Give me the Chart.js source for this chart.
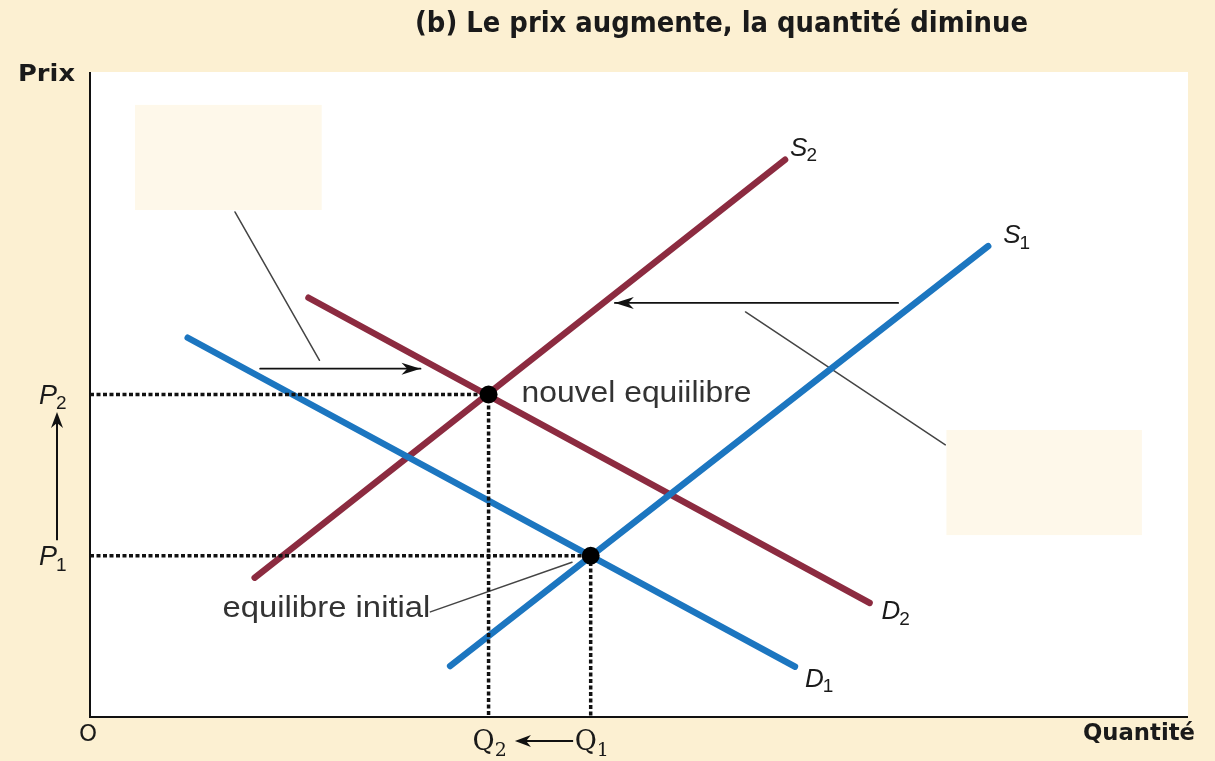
<!DOCTYPE html>
<html>
<head>
<meta charset="utf-8">
<script src="https://cdn.jsdelivr.net/npm/chart.js@4.4.1/dist/chart.umd.min.js"></script>
<style>
  html, body { margin:0; padding:0; background:#fcf0d2; }
  #wrap { width:1215px; height:761px; position:relative; }
</style>
</head>
<body>
<div id="wrap"><canvas id="c"></canvas></div>
<script>
// ---- data (abstract units: quantity 0..100, price 0..100) ----
const supply1 = [{x:32.8, y:7.9}, {x:81.8, y:73.0}];
const demand1 = [{x:8.9, y:58.8}, {x:64.2, y:7.8}];
const supply2 = [{x:15.0, y:21.6}, {x:63.3, y:86.4}];
const demand2 = [{x:19.9, y:65.0}, {x:71.0, y:17.7}];
const initialEq = {x:45.6, y:25.0};
const newEq = {x:36.3, y:50.0};
const demandShift = [{x:15.5, y:54.0}, {x:30.1, y:54.0}];
const supplyShift = [{x:73.6, y:64.2}, {x:47.8, y:64.2}];
const pointerA = [{x:13.2, y:78.3}, {x:20.9, y:55.3}];
const pointerB = [{x:59.7, y:62.8}, {x:77.9, y:42.2}];
const pointerInit = [{x:31.0, y:16.3}, {x:43.9, y:24.0}];
const noteBoxes = [{x0:4.1, x1:21.1, y0:78.6, y1:94.9}, {x0:78.0, x1:95.8, y0:28.2, y1:44.5}];
const priceTicks = [{value:25.0, base:'P', sub:'1'}, {value:50.0, base:'P', sub:'2'}];
const qtyTicks = [{value:45.6, base:'Q', sub:'1'}, {value:36.3, base:'Q', sub:'2'}];
const priceArrow = [27.4, 47.3];
const qtyArrow = [44.0, 38.7];
const curveLabels = [
  {base:'S', sub:'2'}, {base:'S', sub:'1'}, {base:'D', sub:'2'}, {base:'D', sub:'1'}
];
const titleText = '(b) Le prix augmente, la quantité diminue';
const yAxisTitle = 'Prix';
const xAxisTitle = 'Quantité';
const originLabel = 'O';
const newEqText = 'nouvel equiilibre';
const initEqText = 'equilibre initial';

const BLUE = '#1c76c0';
const MAROON = '#8c2b40';

function guide(eq) { return [{x:0, y:eq.y}, {x:eq.x, y:eq.y}, {x:eq.x, y:0}]; }

function txt(ctx, s, x, y, font, color, align, sx) {
  ctx.save();
  ctx.font = font; ctx.fillStyle = color; ctx.textAlign = align || 'left'; ctx.textBaseline = 'middle';
  ctx.translate(x, y); ctx.scale(sx || 1, 1); ctx.fillText(s, 0, 0);
  ctx.restore();
}
function fitText(ctx, s, x0, x1, y, font, color) {
  ctx.save(); ctx.font = font; const w = ctx.measureText(s).width; ctx.restore();
  txt(ctx, s, x0, y, font, color, 'left', (x1 - x0) / w);
}
function subLabel(ctx, base, sub, x, y, size, serif) {
  ctx.save();
  const fam = serif ? "'DejaVu Serif', serif" : "'Liberation Sans', Arial, sans-serif";
  ctx.font = (serif ? '' : 'italic ') + size + 'px ' + fam;
  ctx.fillStyle = '#1a1a1a'; ctx.textBaseline = 'alphabetic'; ctx.textAlign = 'left';
  ctx.fillText(base, x, y);
  const w = ctx.measureText(base).width;
  ctx.font = Math.round(size * 0.72) + 'px ' + fam;
  ctx.fillText(sub, x + w + (serif ? 0 : -1), y + size * 0.22);
  ctx.restore();
}
function arrowHead(ctx, x1, y1, x2, y2, len, half) {
  const a = Math.atan2(y2 - y1, x2 - x1);
  ctx.save();
  ctx.translate(x2, y2); ctx.rotate(a);
  ctx.beginPath();
  ctx.moveTo(0, 0); ctx.lineTo(-len, -half); ctx.lineTo(-len * 0.7, 0); ctx.lineTo(-len, half);
  ctx.closePath(); ctx.fillStyle = '#111'; ctx.fill();
  ctx.restore();
}

const decor = {
  id: 'decor',
  beforeDraw(chart) {
    const {ctx, chartArea: a, scales: {x, y}} = chart;
    ctx.save();
    ctx.fillStyle = '#fcf0d2'; ctx.fillRect(0, 0, chart.width, chart.height);
    ctx.fillStyle = '#ffffff'; ctx.fillRect(a.left, a.top, a.right - a.left, a.bottom - a.top);
    ctx.fillStyle = '#fef8ea';
    noteBoxes.forEach(b => {
      const l = x.getPixelForValue(b.x0), r = x.getPixelForValue(b.x1);
      const t = y.getPixelForValue(b.y1), bt = y.getPixelForValue(b.y0);
      ctx.fillRect(l, t, r - l, bt - t);
    });
    ctx.restore();
  },
  afterDatasetsDraw(chart) {
    const {ctx, chartArea: a, scales: {x, y}} = chart;
    ctx.save();
    // axes
    ctx.strokeStyle = '#111'; ctx.lineWidth = 2;
    ctx.beginPath(); ctx.moveTo(a.left, a.top); ctx.lineTo(a.left, a.bottom); ctx.lineTo(a.right, a.bottom); ctx.stroke();
    // shift arrowheads
    [demandShift, supplyShift].forEach(s => {
      arrowHead(ctx, x.getPixelForValue(s[0].x), y.getPixelForValue(s[0].y),
                x.getPixelForValue(s[1].x), y.getPixelForValue(s[1].y), 19, 6);
    });
    // price arrow
    const px = a.left - 33;
    const py0 = y.getPixelForValue(priceArrow[0]), py1 = y.getPixelForValue(priceArrow[1]);
    ctx.strokeStyle = '#111'; ctx.lineWidth = 2;
    ctx.beginPath(); ctx.moveTo(px, py0); ctx.lineTo(px, py1 + 8); ctx.stroke();
    arrowHead(ctx, px, py0, px, py1, 16, 6);
    // quantity arrow
    const qy = a.bottom + 24;
    const qx0 = x.getPixelForValue(qtyArrow[0]), qx1 = x.getPixelForValue(qtyArrow[1]);
    ctx.beginPath(); ctx.moveTo(qx0, qy); ctx.lineTo(qx1 + 8, qy); ctx.stroke();
    arrowHead(ctx, qx0, qy, qx1, qy, 16, 6);
    // tick labels
    priceTicks.forEach(t => subLabel(ctx, t.base, t.sub, a.left - 51, y.getPixelForValue(t.value) + 9, 27, false));
    qtyTicks.forEach(t => subLabel(ctx, t.base, t.sub, x.getPixelForValue(t.value) - 16, a.bottom + 33, 27, true));
    // curve labels
    const ends = [supply2[1], supply1[1], demand2[1], demand1[1]];
    const offs = [[5, -4], [15, -3], [12, 16], [10, 20]];
    curveLabels.forEach((c, i) => {
      subLabel(ctx, c.base, c.sub, x.getPixelForValue(ends[i].x) + offs[i][0], y.getPixelForValue(ends[i].y) + offs[i][1], 26, false);
    });
    // text
    fitText(ctx, titleText, 415, 1028, 25, "bold 28px 'DejaVu Sans', sans-serif", '#1a1a1a');
    fitText(ctx, yAxisTitle, 18, 75, 75, "bold 23px 'DejaVu Sans', sans-serif", '#1a1a1a');
    fitText(ctx, xAxisTitle, 1083, 1195, 734, "bold 23px 'DejaVu Sans', sans-serif", '#1a1a1a');
    txt(ctx, originLabel, a.left - 2, a.bottom + 18, "23px 'DejaVu Sans', sans-serif", '#1a1a1a', 'center');
    const nx = x.getPixelForValue(newEq.x) + 33, ny = y.getPixelForValue(newEq.y) - 1;
    fitText(ctx, newEqText, nx, nx + 230, ny, "29px 'Liberation Sans', Arial, sans-serif", '#333');
    const ix = x.getPixelForValue(pointerInit[0].x), iy = y.getPixelForValue(pointerInit[0].y) - 3;
    fitText(ctx, initEqText, ix - 208, ix, iy, "29px 'Liberation Sans', Arial, sans-serif", '#333');
    ctx.restore();
  }
};

const lineDs = (data, color, width, dash) => ({
  data, showLine: true, borderColor: color, borderWidth: width, borderDash: dash || [],
  pointRadius: 0, borderCapStyle: dash ? 'butt' : 'round', fill: false, tension: 0
});

new Chart(document.getElementById('c'), {
  type: 'scatter',
  data: {
    datasets: [
      { data: [initialEq, newEq], showLine: false, pointRadius: 9, pointBackgroundColor: '#000', pointBorderColor: '#000', pointBorderWidth: 0 },
      lineDs(guide(newEq), '#111', 3.5, [4, 2.5]),
      lineDs(guide(initialEq), '#111', 3.5, [4, 2.5]),
      lineDs(demandShift, '#111', 1.8),
      lineDs(supplyShift, '#111', 1.8),
      lineDs(supply1, BLUE, 6.5),
      lineDs(demand1, BLUE, 6.5),
      lineDs(supply2, MAROON, 6.5),
      lineDs(demand2, MAROON, 6.5),
      lineDs(pointerA, '#444', 1.5),
      lineDs(pointerB, '#444', 1.5),
      lineDs(pointerInit, '#444', 1.5)
    ]
  },
  options: {
    responsive: true, maintainAspectRatio: false, animation: false,
    layout: { padding: { left: 90, top: 72, right: 27, bottom: 44 } },
    plugins: { legend: { display: false }, tooltip: { enabled: false }, title: { display: false } },
    scales: {
      x: { type: 'linear', min: 0, max: 100, display: false },
      y: { type: 'linear', min: 0, max: 100, display: false }
    }
  },
  plugins: [decor]
});
</script>
</body>
</html>
